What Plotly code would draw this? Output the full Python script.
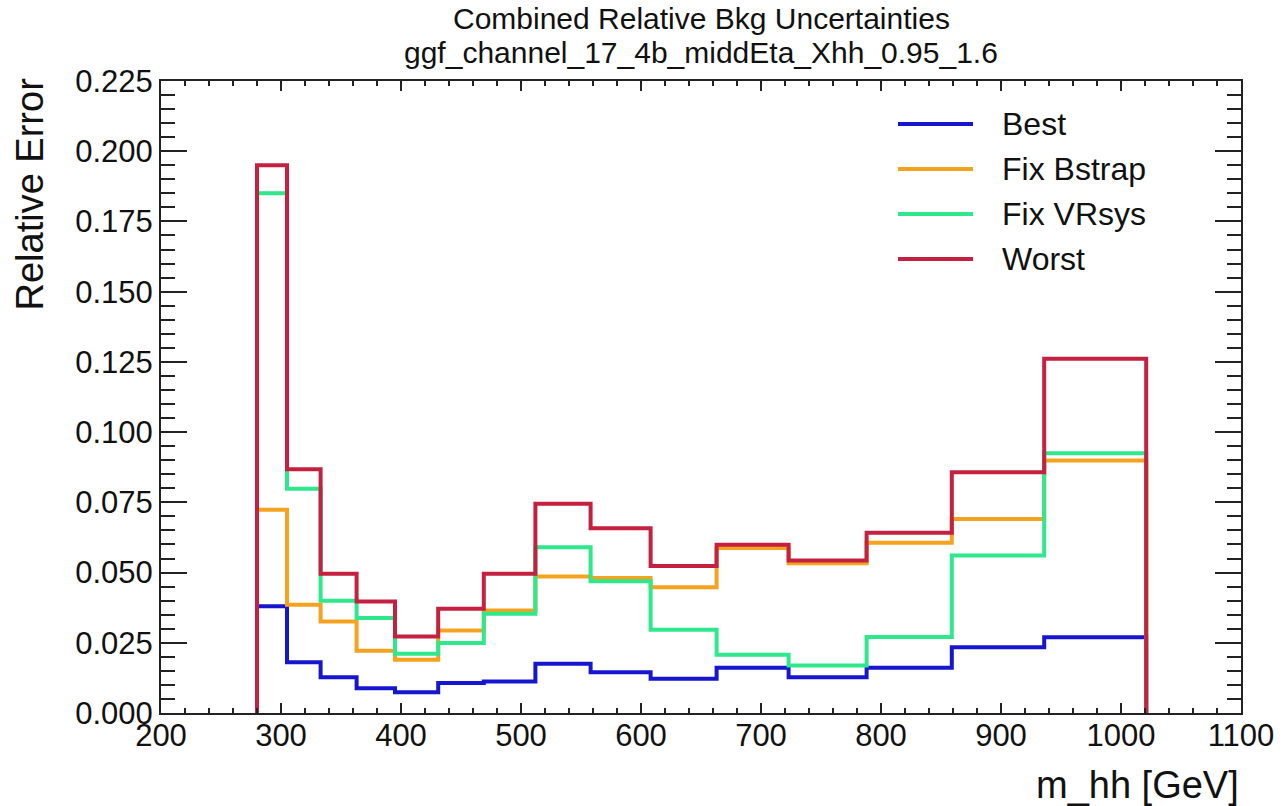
import plotly.graph_objects as go

# ---- data ----
edges = [280, 305, 333, 363, 395, 431, 469, 512, 558, 608, 663, 723, 788, 859, 936, 1021]
best = [0.0380, 0.0181, 0.0127, 0.0088, 0.0074, 0.0107, 0.0112, 0.0175, 0.0145, 0.0122,
        0.0161, 0.0127, 0.0161, 0.0234, 0.0270]
fix_bstrap = [0.0724, 0.0385, 0.0326, 0.0222, 0.0190, 0.0294, 0.0365, 0.0486, 0.0481, 0.0448,
              0.0587, 0.0533, 0.0606, 0.0691, 0.0899]
fix_vrsys = [0.1850, 0.0798, 0.0400, 0.0338, 0.0211, 0.0249, 0.0353, 0.0590, 0.0469, 0.0296,
             0.0207, 0.0169, 0.0271, 0.0561, 0.0925]
worst = [0.1950, 0.0868, 0.0496, 0.0397, 0.0272, 0.0371, 0.0496, 0.0745, 0.0658, 0.0523,
         0.0599, 0.0543, 0.0642, 0.0857, 0.1261]

series_names = ["Best", "Fix Bstrap", "Fix VRsys", "Worst"]
series_values = [best, fix_bstrap, fix_vrsys, worst]
series_colors = ["#1616d0", "#f5a31e", "#2ee88c", "#c4203f"]

x_ticks = [200, 300, 400, 500, 600, 700, 800, 900, 1000, 1100]
y_ticks = [0.000, 0.025, 0.050, 0.075, 0.100, 0.125, 0.150, 0.175, 0.200, 0.225]

title_line1 = "Combined Relative Bkg Uncertainties"
title_line2 = "ggf_channel_17_4b_middEta_Xhh_0.95_1.6"
x_title = "m_hh [GeV]"
y_title = "Relative Error"

FONT = "Liberation Sans, Arial, Helvetica, sans-serif"
TXT = "#111111"


def step_xy(e, v):
    xs = [e[0]] + list(e) + [e[-1]]
    ys = [0.0] + list(v) + [v[-1], 0.0]
    return xs, ys


fig = go.Figure()
for name, vals, col in zip(series_names, series_values, series_colors):
    xs, ys = step_xy(edges, vals)
    fig.add_trace(go.Scatter(
        x=xs, y=ys, mode="lines", name=name,
        line=dict(color=col, width=4, shape="hv"),
        showlegend=False, hoverinfo="skip",
    ))

axis_common = dict(
    showgrid=False, zeroline=False, showline=True, linecolor="#222222", linewidth=2,
    mirror="allticks", ticks="inside", tickcolor="#222222", tickwidth=2,
    tickfont=dict(family=FONT, size=31, color=TXT),
)

fig.update_xaxes(
    range=[x_ticks[0], x_ticks[-1]], tickvals=x_ticks, ticktext=[str(t) for t in x_ticks],
    ticklen=10, ticklabelstandoff=-6,
    minor=dict(dtick=20, ticklen=5, ticks="inside", tickcolor="#222222", tickwidth=1.5),
    **axis_common,
)
fig.update_yaxes(
    range=[y_ticks[0], y_ticks[-1]], tickvals=y_ticks, ticktext=[f"{t:.3f}" for t in y_ticks],
    ticklen=26,
    minor=dict(dtick=0.005, ticklen=14, ticks="inside", tickcolor="#222222", tickwidth=1.5),
    **axis_common,
)

# plot area in px: x 161..1241, y 81..713
L, R, T, B = 161, 1241, 81, 713
W, H = R - L, B - T


def px_x(p):
    return (p - L) / W


def px_y(p):
    return (B - p) / H


annotations = [
    dict(text=title_line1, xref="paper", yref="paper", x=0.5, y=px_y(19),
         xanchor="center", yanchor="middle", showarrow=False,
         font=dict(family=FONT, size=30, color=TXT)),
    dict(text=title_line2, xref="paper", yref="paper", x=0.5, y=px_y(53),
         xanchor="center", yanchor="middle", showarrow=False,
         font=dict(family=FONT, size=30, color=TXT)),
    dict(text=x_title, xref="paper", yref="paper", x=1.0, y=px_y(785),
         xanchor="right", yanchor="middle", showarrow=False,
         font=dict(family=FONT, size=38, color=TXT)),
    dict(text=y_title, xref="paper", yref="paper", x=px_x(30), y=px_y(76),
         xanchor="center", yanchor="top", textangle=-90, showarrow=False,
         font=dict(family=FONT, size=38, color=TXT)),
]

# manual legend (long line samples as in the reference)
shapes = []
leg_y0, leg_dy = 124, 45
for i, (name, col) in enumerate(zip(series_names, series_colors)):
    yy = px_y(leg_y0 + i * leg_dy)
    shapes.append(dict(type="line", xref="paper", yref="paper",
                       x0=px_x(898), x1=px_x(973), y0=yy, y1=yy,
                       line=dict(color=col, width=4)))
    annotations.append(dict(text=name, xref="paper", yref="paper", x=px_x(1000), y=yy,
                            xanchor="left", yanchor="middle", showarrow=False,
                            font=dict(family=FONT, size=32, color=TXT)))

fig.update_layout(
    width=1288, height=806,
    margin=dict(l=L, r=1288 - R, t=T, b=806 - B),
    paper_bgcolor="white", plot_bgcolor="white",
    font=dict(family=FONT, color=TXT),
    showlegend=False,
    annotations=annotations,
    shapes=shapes,
)

fig.write_html("out.html")
